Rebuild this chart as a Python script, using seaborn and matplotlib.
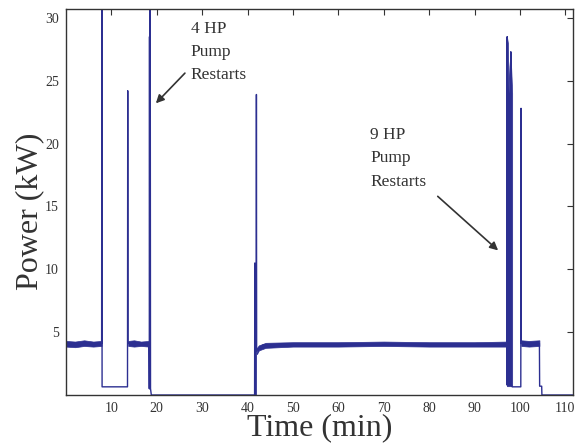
import numpy as np
import pandas as pd
import matplotlib
matplotlib.use("Agg")
import matplotlib.pyplot as plt
import seaborn as sns

# ---- data ----
trace_t = [0, 7.85, 7.9, 7.95, 13.55, 13.6, 13.65, 18.3, 18.35, 18.4, 18.45, 18.55, 18.62, 18.8,
           41.55, 41.6, 41.65, 41.9, 41.95, 42.0, 42.4, 43.5, 97.1, 97.15, 97.2, 97.25,
           97.95, 98.0, 98.05, 98.3, 100.2, 100.25, 100.3, 104.3, 104.35, 104.8, 104.85, 111.7]
trace_p = [4.1, 4.1, 34.0, 0.65, 0.65, 24.2, 4.1, 4.1, 0.5, 28.5, 0.5, 34.0, 0.5, 0.0,
           0.0, 10.5, 0.0, 0.0, 23.9, 3.5, 3.7, 4.0, 4.05, 0.8, 28.5, 0.8,
           0.8, 27.3, 0.8, 0.65, 0.65, 22.8, 4.1, 4.1, 0.7, 0.7, 0.0, 0.0]

band1_t = [0, 2, 4, 6, 7.85]
band1_lo = [3.85, 3.8, 3.9, 3.85, 3.9]
band1_hi = [4.3, 4.25, 4.35, 4.25, 4.3]
band2_t = [13.7, 15, 16.5, 18.3]
band2_lo = [3.9, 3.85, 3.9, 3.85]
band2_hi = [4.3, 4.35, 4.25, 4.3]
band3_t = [42.05, 42.5, 44, 50, 60, 70, 80, 90, 97.1]
band3_lo = [3.25, 3.55, 3.75, 3.85, 3.85, 3.9, 3.85, 3.85, 3.85]
band3_hi = [3.75, 3.95, 4.15, 4.2, 4.2, 4.25, 4.2, 4.2, 4.25]
band4_t = [100.3, 102, 104.3]
band4_lo = [3.9, 3.85, 3.9]
band4_hi = [4.35, 4.3, 4.35]

block_t = [97.15, 97.35, 97.5, 97.7, 97.95, 98.05, 98.3]
block_hi = [28.5, 28.0, 24.0, 26.2, 27.3, 26.3, 24.0]
block_lo = [0.7, 0.7, 0.7, 0.7, 0.7, 0.7, 0.7]

x_ticks = [10, 20, 30, 40, 50, 60, 70, 80, 90, 100, 110]
y_ticks = [5, 10, 15, 20, 25, 30]

# ---- style ----
sns.set_theme(style="white")
plt.rcParams['font.family'] = ['Liberation Serif', 'DejaVu Serif']

blue = '#2c2f91'
gray = '#333333'

fig = plt.figure(figsize=(5.81, 4.46), dpi=100)
ax = fig.add_axes([66/581, 51/446, (573-66)/581, (395-9)/446])

df = pd.DataFrame({'Time': trace_t, 'Power': trace_p})
sns.lineplot(data=df, x='Time', y='Power', sort=False, estimator=None,
             color=blue, lw=1.0, ax=ax)

for bt, blo, bhi in [(band1_t, band1_lo, band1_hi), (band2_t, band2_lo, band2_hi),
                     (band3_t, band3_lo, band3_hi), (band4_t, band4_lo, band4_hi),
                     (block_t, block_lo, block_hi)]:
    ax.fill_between(bt, blo, bhi, color=blue, lw=0.5, edgecolor=blue)

ax.set_xlim(0, 111.7)
ax.set_ylim(0, 30.7)
ax.set_xticks(x_ticks)
ax.set_yticks(y_ticks)
ax.tick_params(direction='in', top=True, right=True, length=4, width=0.8,
               color=gray, labelcolor=gray, labelsize=10, pad=5)
for s in ax.spines.values():
    s.set_color(gray)
    s.set_linewidth(1.0)

ax.set_xlabel('Time (min)', fontsize=23, color=gray, labelpad=-1)
ax.set_ylabel('Power (kW)', fontsize=23, color=gray)
ax.yaxis.set_label_coords(-0.043, 0.477)

txt_kw = dict(fontsize=12.5, color=gray, ha='left', va='top', linespacing=1.6)
ax.text(27.5, 29.75, '4 HP\nPump\nRestarts', **txt_kw)
ax.text(67.0, 21.3, '9 HP\nPump\nRestarts', **txt_kw)

arrow_kw = dict(arrowstyle='-|>', color=gray, lw=1.2, mutation_scale=12,
                shrinkA=0, shrinkB=0)
ax.annotate('', xy=(19.8, 23.2), xytext=(26.2, 25.6), arrowprops=arrow_kw)
ax.annotate('', xy=(95.2, 11.5), xytext=(81.9, 15.8), arrowprops=arrow_kw)

fig.savefig('out.png', dpi=100)
